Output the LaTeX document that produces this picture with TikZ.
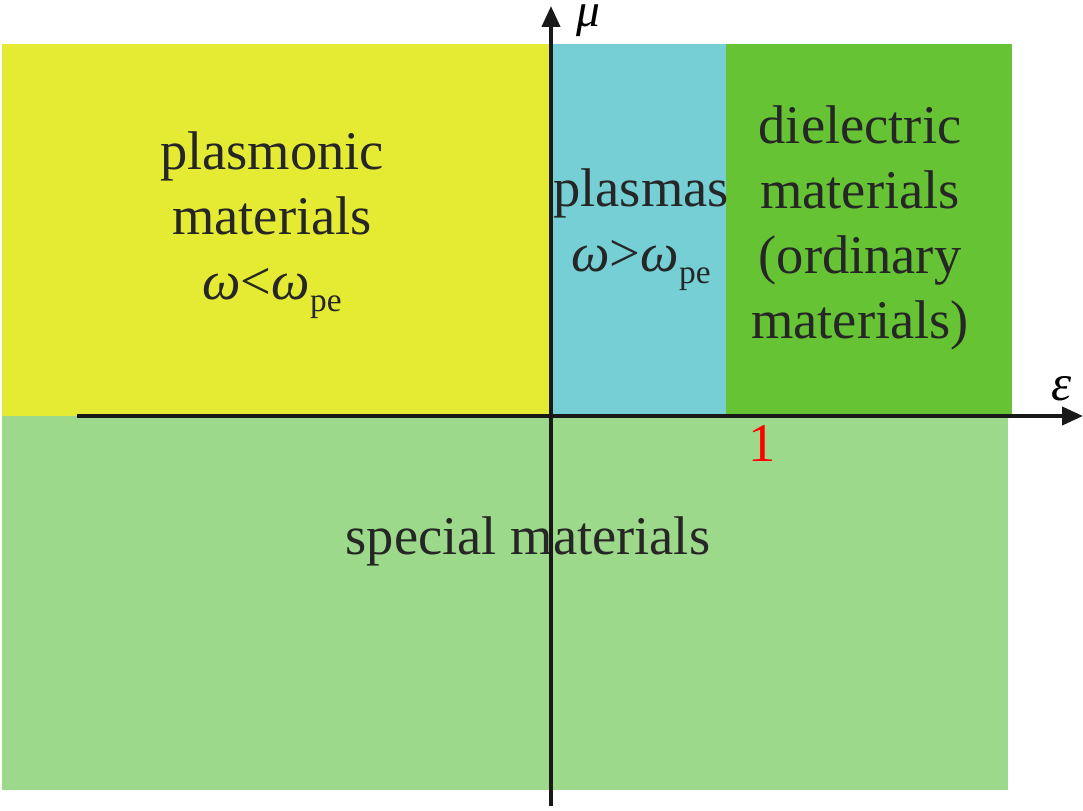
\documentclass[tikz,border=0pt]{standalone}
\usepackage{fontspec}
\setmainfont{Liberation Serif}
\usetikzlibrary{positioning, arrows.meta}

\definecolor{plasyellow}{RGB}{229,235,51}
\definecolor{plascyan}{RGB}{118,207,212}
\definecolor{dielgreen}{RGB}{101,195,52}
\definecolor{specgreen}{RGB}{156,217,138}

\tikzset{
	region/.style={inner sep=0pt, outer sep=0pt},
	lbl/.style={font=\fontsize{31}{37}\selectfont, align=center, text=black!85},
	axis/.style={line width=2.3pt, black!90, -{Triangle[length=0.42cm, width=0.36cm]}}
}
\newcommand{\omg}{{\itshape ω}}
\newcommand{\pe}{\raisebox{-0.22em}{\fontsize{19}{19}\selectfont pe}}

\begin{document}
\begin{tikzpicture}[x=0.02cm, y=-0.02cm]
			\useasboundingbox (0,0) rectangle (1083,811);
			\fill[specgreen] (2,416) rectangle (1008,790);
			\fill[plasyellow] (2,44) rectangle (553,416);
			\fill[plascyan] (553,44) rectangle (726,416);
			\fill[dielgreen] (726,44) rectangle (1012,416);
			
			\node (plasmonic) at (272, 225) [lbl] {plasmonic\\materials\\\omg<\omg\pe};
			\node (plasmas) at (641, 230) [lbl] {plasmas\\\omg>\omg\pe};
			\node (dielectric) at (860, 228) [lbl] {dielectric\\materials\\(ordinary\\materials)};
			\node (special) at (528, 541) [lbl] {special materials};
			
			\node (xstart) at (77, 416) {};
			\node (xend) at (1083, 416) {};
			\node (ystart) at (551, 806) {};
			\node (yend) at (551, 6) {};
			\node (eps) at (1062, 389) [font=\fontsize{29}{34}\selectfont\itshape] {ε};
			\node (mu) at (588, 27) [anchor=base, inner sep=0pt, font=\fontsize{27}{32}\selectfont\itshape] {μ};
			\node (one) at (762, 444) [font=\fontsize{31}{37}\selectfont, text=red] {1};
			
			\draw[axis] (xstart.center) to (xend.center);
			\draw[axis] (ystart.center) to (yend.center);
		\end{tikzpicture}
\end{document}
